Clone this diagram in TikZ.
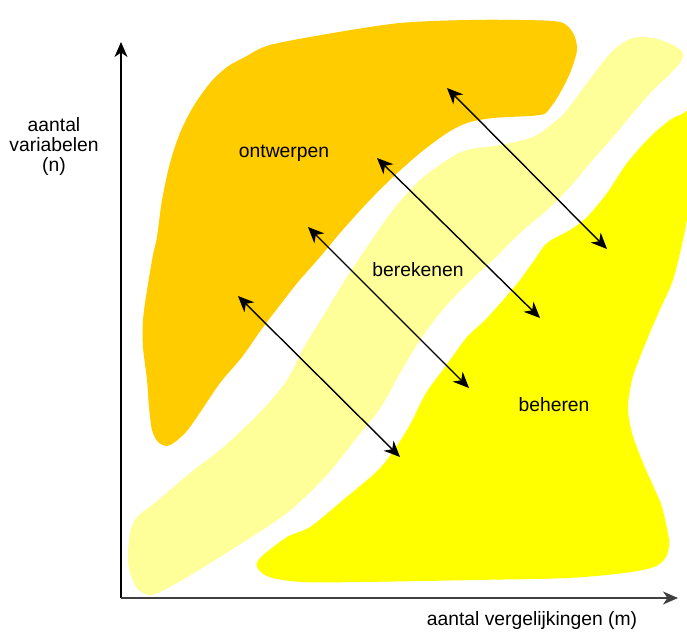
\documentclass[tikz,border=0pt]{standalone}
\usepackage{fontspec}
\setmainfont{Liberation Sans}
\usetikzlibrary{arrows.meta}
\definecolor{cOrange}{HTML}{FFCC00}
\definecolor{cLight}{HTML}{FFFF99}
\definecolor{cYellow}{HTML}{FFFF00}
\tikzset{
  region/.style={draw=none},
  headtip/.tip={Stealth[length=16pt,width=14pt,inset=5pt]},
  dblarrow/.style={line width=1.4pt,headtip-headtip},
  axisline/.style={line width=1.4pt,-{Stealth[length=15pt,width=13pt,inset=4.5pt]}},
  lbl/.style={inner sep=0pt,font=\fontsize{19.3}{20}\selectfont}
}
\begin{document}
\begin{tikzpicture}[x=1pt,y=-1pt]
\clip (0,0) rectangle (687,632);
\fill[white] (0,0) rectangle (687,632);
% berekenen band
\fill[cLight,region] plot[smooth cycle,tension=0.5] coordinates {
 (633,38) (653,38) (673,45) (683,53) (680,63) (667,77) (653,90) (633,113) (613,137) (590,163) (570,187) (547,210) (520,233) (495,258) (471,280) (445,307) (422,337) (400,373) (381,407) (355,440) (325,477) (287,513) (242,543) (194,573) (164,590) (149,595) (136,587) (128,563) (130,533) (137,517) (156,502) (190,473) (220,450) (242,430) (265,407) (287,380) (304,347) (325,313) (345,280) (367,247) (393,210) (420,180) (447,160) (467,150) (500,145) (533,137) (557,120) (567,110) (587,83) (607,57) (617,47)};
% ontwerpen
\fill[cOrange,region] plot[smooth cycle,tension=0.5] coordinates {
 (143,320) (147,290) (153,255) (157,237) (162,200) (170,163) (180,133) (193,107) (210,83) (227,67) (245,57) (270,45) (333,33) (400,23) (467,20) (520,20) (560,22) (573,33) (577,50) (570,73) (560,93) (550,108) (540,115) (493,118) (467,123) (447,133) (420,153) (393,177) (367,203) (340,233) (320,257) (298,282) (280,305) (261,330) (242,357) (220,383) (197,417) (186,432) (175,442) (167,446) (158,442) (152,430) (149,407) (147,380) (143,347)};
% beheren
\fill[cYellow,region] plot[smooth cycle,tension=0.5] coordinates {
 (680,115) (692,112) (694,150) (690,200) (683,240) (673,280) (662,305) (651,330) (640,357) (632,380) (628,407) (632,433) (643,463) (655,490) (662,507) (669,540) (666,557) (654,567) (624,573) (568,578) (475,580) (362,582) (302,582) (269,577) (257,567) (261,557) (287,537) (310,527) (343,500) (381,467) (407,430) (426,393) (445,367) (467,337) (487,318) (516,285) (533,262) (547,243) (570,230) (587,217) (607,193) (627,163) (650,137) (670,120)};
% axes
\coordinate (O) at (121,598);
\coordinate (ytip) at (121,42);
\coordinate (xtip) at (678,598);
\draw[axisline] (O) -- (ytip);
\draw[axisline,black!75] (O) -- (xtip);
% arrows
\coordinate (a1s) at (447,88);  \coordinate (a1e) at (607,249);
\coordinate (a2s) at (377,158); \coordinate (a2e) at (540,318);
\coordinate (a3s) at (308,227); \coordinate (a3e) at (469,388);
\coordinate (a4s) at (238,296); \coordinate (a4e) at (400,457);
\draw[dblarrow] (a1s) -- (a1e);
\draw[dblarrow] (a2s) -- (a2e);
\draw[dblarrow] (a3s) -- (a3e);
\draw[dblarrow] (a4s) -- (a4e);
% labels
\node[lbl,anchor=base] (ontw) at (284,157) {ontwerpen};
\node[lbl,anchor=base] (bere) at (418,276) {berekenen};
\node[lbl,anchor=base] (behe) at (554,411) {beheren};
\node[lbl,anchor=base] (xlab) at (532,625) {aantal vergelijkingen (m)};
\node[lbl,align=center] (ylab) at (54,147) {aantal\\variabelen\\(n)};
\end{tikzpicture}
\end{document}
